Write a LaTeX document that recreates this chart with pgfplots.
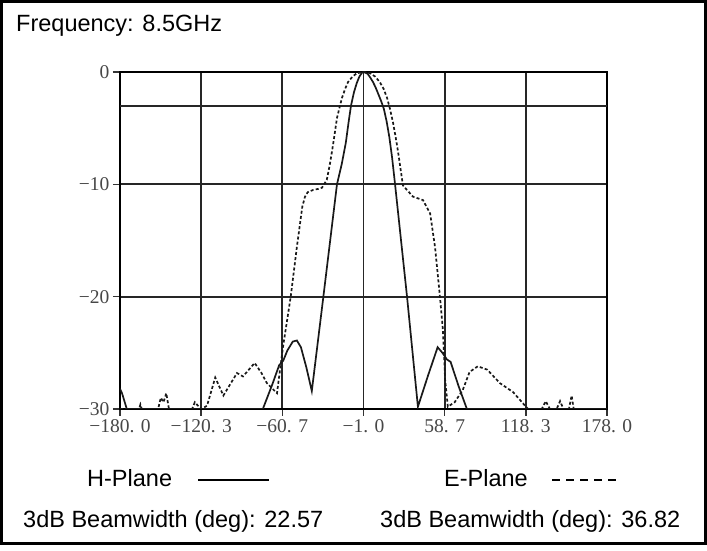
\documentclass[border=0pt]{standalone}
\usepackage{pgfplots}
\pgfplotsset{compat=1.18}
\usepackage{fontspec}
\setmainfont{Liberation Sans}
\newfontfamily\tickfont{Liberation Serif}

\begin{document}
\begin{tikzpicture}[x=1pt,y=1pt]
\path[use as bounding box] (0,0) rectangle (707,551);
\draw[line width=3pt] (1.5,7.5) rectangle (705.5,549.5);

\begin{axis}[
  at={(120pt,142pt)}, anchor=south west,
  scale only axis, width=487pt, height=337pt,
  xmin=-180, xmax=178, ymin=-30, ymax=0,
  xtick={-180,-120.3,-60.7,-1,58.7,118.3,178},
  xticklabels={{−180. 0},{−120. 3},{−60. 7},{−1. 0},{58. 7},{118. 3},{178. 0}},
  ytick={-30,-20,-10,0},
  yticklabels={−30,−20,−10,0},
  xtick pos=left, ytick pos=left,
  tick align=outside, major tick length=7pt,
  grid=major,
  major grid style={black!85, line width=1.7pt},
  axis line style={black, line width=2pt},
  tick style={black!80, line width=1.5pt},
  tick label style={font=\tickfont\fontsize{19.5}{19.5}\selectfont, text=black!72},
]
% -3 dB reference line
\addplot[black!85, line width=1.7pt] coordinates {(-180,-3) (178,-3)};

% H-Plane
\addplot[black!90, line width=1.7pt] coordinates {
  (-180,-28.2) (-178.5,-28.6) (-176.5,-29.4) (-175,-30)
  (-75,-30) (-68,-27.8) (-63,-26.1) (-60,-25.7) (-57,-24.8) (-53,-24.0)
  (-50,-23.9) (-47,-24.5) (-43,-26.3) (-39,-28.4) (-30.5,-20) (-20.5,-10)
  (-17,-8.2) (-14,-6.3) (-12,-4.5) (-10.2,-3.0) (-8,-1.8) (-6,-1.0)
  (-4,-0.4) (-2,-0.05) (-1,0)
  (2,-0.15) (4,-0.5) (6,-0.9) (8,-1.4) (10,-2.0) (12,-2.6) (14,-3.3)
  (16,-4.4) (18,-5.8) (20,-7.6) (22.2,-10) (31,-20)
  (39,-29.8) (46.5,-27) (53.5,-24.5) (57,-25) (60.4,-25.6) (63,-25.8)
  (69,-28) (75,-30) (178,-30)
};

% E-Plane
\addplot[black!90, line width=1.7pt, dash pattern=on 3pt off 2.2pt] coordinates {
  (-180,-30) (-166,-30) (-165,-29.6) (-164,-30)
  (-152,-30) (-150,-29.0) (-148,-29.4) (-146,-28.6) (-144,-30)
  (-127,-30) (-125,-29.4) (-122,-29.8) (-120,-30)
  (-116,-29.7) (-110,-27.2) (-104,-28.8) (-94,-26.8) (-89.6,-27.1)
  (-81,-25.9) (-76,-26.8) (-72,-27.7) (-64.6,-28.6) (-60.2,-24.5)
  (-54.5,-20) (-50,-15.6) (-46,-12) (-44,-11.1) (-42,-10.7) (-38,-10.5)
  (-34,-10.4) (-31.5,-10.3) (-28,-9.6) (-26,-8.4) (-24.2,-7.1)
  (-22.3,-5.6) (-20.5,-4.1) (-18.5,-3.1) (-16.8,-2.3) (-14.5,-1.5)
  (-12.4,-0.9) (-9,-0.4) (-5.8,-0.1) (0,0)
  (3.8,-0.1) (7.5,-0.4) (11,-0.9) (13.8,-1.5) (16.3,-2.3) (18.5,-3.3)
  (20.7,-4.5) (22.5,-5.7) (24.4,-7.1) (26.2,-8.6) (28,-10.1)
  (35.4,-11.1) (42.7,-11.4) (48,-12.6) (51.6,-15.6) (55.2,-20) (57.4,-23)
  (59,-27.4) (61,-29.8) (66,-29.4) (72,-28.3) (77,-26.7) (83,-26.2)
  (90,-26.5) (99.3,-27.7) (109,-28.5) (117.7,-29.7) (120,-30)
  (130,-30) (133,-29.3) (136,-30) (141,-30) (143.5,-29.3) (146,-30)
  (150,-30) (152,-28.8) (153.5,-30) (178,-30)
};
\end{axis}

\node[anchor=base west, inner sep=0, font=\fontsize{23.5}{28}\selectfont] at (16,519) {Frequency: 8.5GHz};

\node[anchor=base west, inner sep=0, font=\fontsize{23.5}{28}\selectfont] at (87,64) {H-Plane};
\draw[line width=2.5pt] (198,71) -- (269,71);
\node[anchor=base west, inner sep=0, font=\fontsize{23.5}{28}\selectfont] at (444,64) {E-Plane};
\draw[line width=2.5pt, dash pattern=on 8pt off 6pt] (552,71) -- (616,71);

\node[anchor=base west, inner sep=0, font=\fontsize{23.5}{28}\selectfont] at (23,23) {3dB Beamwidth (deg): 22.57};
\node[anchor=base west, inner sep=0, font=\fontsize{23.5}{28}\selectfont] at (380,23) {3dB Beamwidth (deg): 36.82};
\end{tikzpicture}
\end{document}
